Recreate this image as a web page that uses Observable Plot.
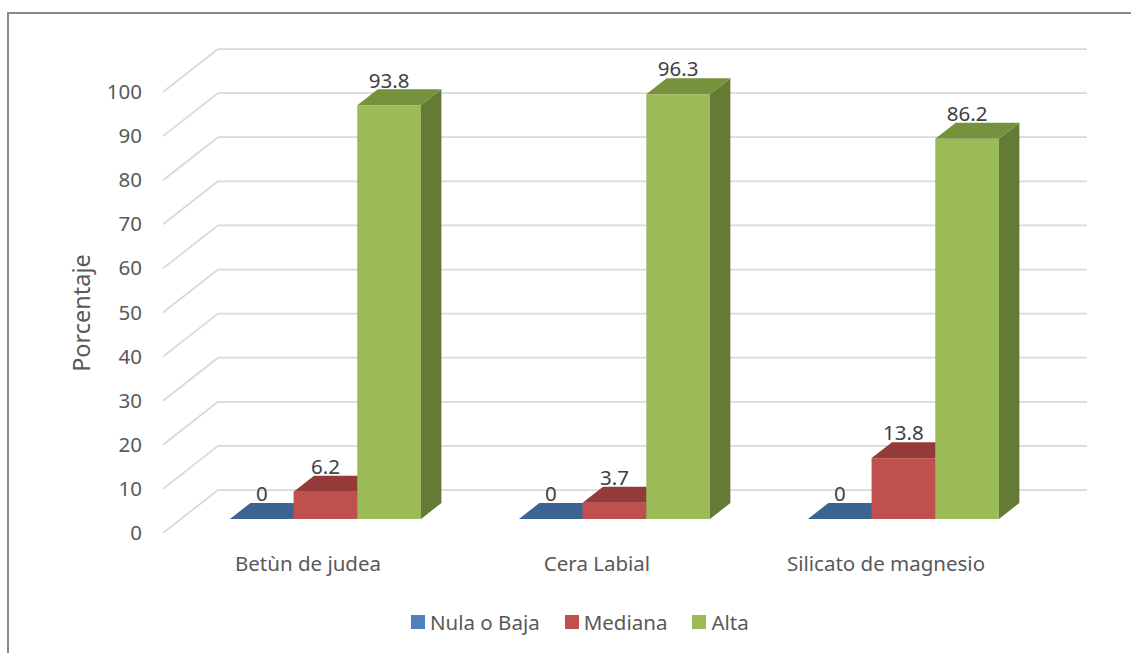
<!DOCTYPE html>
<html><head><meta charset="utf-8">
<script src="https://cdn.jsdelivr.net/npm/d3@7"></script>
<script src="https://cdn.jsdelivr.net/npm/@observablehq/plot@0.6"></script>
<style>
html,body{margin:0;padding:0;background:#fff;overflow:hidden;}
#wrap{position:relative;width:1131px;height:653px;overflow:hidden;font-family:"Noto Sans",sans-serif;background:#fff;}
#frame{position:absolute;left:7px;top:12px;width:1400px;height:900px;border:2px solid #8a8a8a;box-sizing:border-box;}
#chart{position:absolute;left:0;top:0;}
#legend{position:absolute;left:411px;top:605px;}
#legend div,#legend span{font-family:"Noto Sans",sans-serif !important;font-size:20.5px !important;color:#595959 !important;}
#legend span{margin-right:25px !important;}
#legend svg{margin-right:5px !important;}
</style>
</head><body>
<div id="wrap"><div id="frame"></div><div id="chart"></div><div id="legend"></div></div>
<script>
// ---- data ----
const categories = ["Betùn de judea", "Cera Labial", "Silicato de magnesio"];
const series = ["Nula o Baja", "Mediana", "Alta"];
const nulaBaja = [0, 0, 0];
const mediana = [6.2, 3.7, 13.8];
const alta = [93.8, 96.3, 86.2];
const yTicks = [0, 10, 20, 30, 40, 50, 60, 70, 80, 90, 100];
const seriesValues = [nulaBaja, mediana, alta];

// ---- styles ----
const frontColors = ["#4F81BD", "#C0504D", "#9BBB59"];
const topColors = ["#3C6393", "#943B39", "#76923C"];
const sideColors = ["#335480", "#7F302E", "#647A35"];

// ---- 3D layout constants ----
const WALL_X0 = 163, WALL_X1 = 1087, DX = 55, DY = -43;
const ZF = 0.326, ZB = 0.698;

function bars3d(index, scales) {
  const x = scales.x, y = scales.y;
  const bw = x.bandwidth(), w = bw / series.length;
  const g = d3.create("svg:g");
  for (const t of yTicks) {
    const yy = y(t);
    g.append("line").attr("x1", WALL_X0).attr("y1", yy).attr("x2", WALL_X0 + DX).attr("y2", yy + DY)
      .attr("stroke", "#d9d9d9").attr("stroke-width", 1.75);
    g.append("line").attr("x1", WALL_X0 + DX).attr("y1", yy + DY).attr("x2", WALL_X1).attr("y2", yy + DY)
      .attr("stroke", "#d9d9d9").attr("stroke-width", 1.75);
  }
  const ddx = (ZB - ZF) * DX, ddy = (ZB - ZF) * DY;
  const labels = [];
  categories.forEach((c, ci) => {
    seriesValues.forEach((vals, si) => {
      const v = vals[ci];
      const x0 = x(c) + si * w + ZF * DX, x1 = x0 + w;
      const yb = y(0) + ZF * DY, yt = y(v) + ZF * DY;
      if (yb - yt > 0) {
        g.append("rect").attr("x", x0).attr("y", yt).attr("width", w).attr("height", yb - yt)
          .attr("fill", frontColors[si]);
        g.append("polygon").attr("points", [[x1, yt], [x1 + ddx, yt + ddy], [x1 + ddx, yb + ddy], [x1, yb]].join(" "))
          .attr("fill", sideColors[si]);
      }
      g.append("polygon").attr("points", [[x0, yt], [x1, yt], [x1 + ddx, yt + ddy], [x0 + ddx, yt + ddy]].join(" "))
        .attr("fill", topColors[si]);
      labels.push({x: (x0 + x1) / 2, y: yt + ddy - 9, t: String(v)});
    });
  });
  for (const l of labels) {
    g.append("text").attr("x", l.x).attr("y", l.y).attr("dy", "0.35em").attr("text-anchor", "middle")
      .attr("fill", "#404040").attr("font-size", 20.5).text(l.t);
  }
  return g.node();
}

const chart = Plot.plot({
  width: 1131,
  height: 600,
  marginLeft: 150,
  marginTop: 92,
  marginBottom: 67,
  marginRight: 40,
  style: {fontFamily: "Noto Sans, sans-serif", fontSize: "20.5px", color: "#595959", background: "transparent", overflow: "visible"},
  x: {type: "band", domain: categories, range: [211, 982], paddingInner: 0.338, paddingOuter: 0},
  y: {type: "linear", domain: [0, 100]},
  marks: [
    bars3d,
    Plot.axisY({ticks: yTicks, tickSize: 0, tickPadding: 8.5, label: null, fontSize: 20.5}),
    Plot.axisX({tickSize: 0, tickPadding: 23, label: null, fontSize: 20.5}),
    Plot.text(["Porcentaje"], {text: d => d, frameAnchor: "left", textAnchor: "middle", lineAnchor: "middle", rotate: -90, dx: -68, fontSize: 23.5, fill: "#595959"})
  ]
});
document.getElementById("chart").appendChild(chart);

const legend = Plot.legend({
  color: {type: "ordinal", domain: series, range: frontColors},
  swatchSize: 14,
  className: "lg"
});
document.getElementById("legend").appendChild(legend);
</script>
</body></html>
